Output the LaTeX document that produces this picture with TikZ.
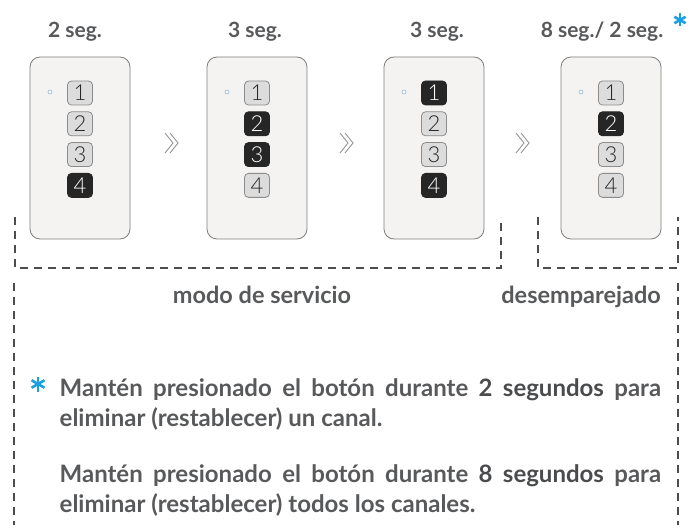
\documentclass[tikz,border=0pt]{standalone}
\usepackage{fontspec}
\setmainfont{Lato}
\newfontfamily\latoblack{Lato Black}
\newfontfamily\latolight{Lato Light}

\definecolor{remotefill}{HTML}{F4F3F2}
\definecolor{remoteline}{HTML}{7F7F7F}
\definecolor{btnfill}{HTML}{DCDCDC}
\definecolor{btnline}{HTML}{8C8C8C}
\definecolor{btndark}{HTML}{262626}
\definecolor{textgray}{HTML}{58595B}
\definecolor{boldgray}{HTML}{4A4B4D}
\definecolor{starblue}{HTML}{1BA0E2}
\definecolor{ledblue}{HTML}{8DB6D6}
\definecolor{dashgray}{HTML}{4D4D4D}

\tikzset{
  remote/.style={draw=remoteline, fill=remotefill, line width=0.8pt, rounded corners=10pt,
    minimum width=100pt, minimum height=182pt},
  btn/.style={draw=btnline, fill=btnfill, line width=0.8pt, rounded corners=4pt,
    minimum width=25pt, minimum height=24pt, inner sep=0pt, text=btndark,
    font=\latolight\fontsize{22}{22}\selectfont},
  btndk/.style={btn, draw=btndark, fill=btndark, text=white},
  led/.style={circle, draw=ledblue, fill=white, line width=0.6pt, minimum size=4pt, inner sep=0pt},
  title/.style={text=textgray, font=\bfseries\fontsize{21}{24}\selectfont, inner sep=0pt},
  label/.style={text=textgray, font=\bfseries\fontsize{23.5}{28}\selectfont, inner sep=0pt},
  chevron/.style={draw=btnline, line width=0.8pt},
  body/.style={text=textgray, font=\bfseries\fontsize{24}{30}\selectfont, inner sep=0pt,
    text width=601.5pt, align=justify},
  dashline/.style={draw=dashgray, line width=1.1pt, dash pattern=on 8pt off 6pt},
  starline/.style={draw=starblue, line width=2.6pt}
}

% blue asterisk: position, arm length
\newcommand{\asterisco}[2]{%
  \foreach \a in {90,30,150} \draw[starline] (#1) ++(\a:#2) -- ++(\a+180:2*#2);}

\begin{document}
\begin{tikzpicture}[x=1pt, y=-1pt]
    \useasboundingbox (0,0) rectangle (697,532);
    % \draw (0, 0) grid (697,532);

    % titles
    \node[title, anchor=base, name=time_1] at (75, 38) {2 seg.};
    \node[title, anchor=base, name=time_2] at (255, 38) {3 seg.};
    \node[title, anchor=base, name=time_3] at (437, 38) {3 seg.};
    \node[title, anchor=base, name=time_4] at (602, 38) {8 seg./ 2 seg.};
    \coordinate (star_top) at (680, 20);
    \asterisco{star_top}{6.5}

    % remotes
    \node[remote, name=remote_1] at (80, 148) {};
    \node[remote, name=remote_2] at (257, 148) {};
    \node[remote, name=remote_3] at (434, 148) {};
    \node[remote, name=remote_4] at (611, 148) {};
    \foreach \r/\x in {1/80, 2/257, 3/434, 4/611}
        \node[led, name=led_\r] at (\x-30, 92) {};

    \foreach \b/\s in {1/btn, 2/btn, 3/btn, 4/btndk}
        \node[\s, name=remote_1_\b] at (80, {93+30.8*(\b-1)}) {\b};
    \foreach \b/\s in {1/btn, 2/btndk, 3/btndk, 4/btn}
        \node[\s, name=remote_2_\b] at (257, {93+30.8*(\b-1)}) {\b};
    \foreach \b/\s in {1/btndk, 2/btn, 3/btn, 4/btndk}
        \node[\s, name=remote_3_\b] at (434, {93+30.8*(\b-1)}) {\b};
    \foreach \b/\s in {1/btn, 2/btndk, 3/btn, 4/btn}
        \node[\s, name=remote_4_\b] at (611, {93+30.8*(\b-1)}) {\b};

    % steps (double chevrons)
    \coordinate (next_1) at (171, 143);
    \coordinate (next_2) at (346, 143);
    \coordinate (next_3) at (522, 143);
    \foreach \n in {next_1, next_2, next_3}
        \foreach \d in {0, 5}
            \draw[chevron] ([xshift=\d pt-6pt, yshift=10pt]\n) -- ([xshift=\d pt+2pt]\n)
                -- ([xshift=\d pt-6pt, yshift=-10pt]\n);

    % dashed groups
    \draw[dashline] (15, 217) |- (501, 268) -- (501, 217);
    \draw[dashline] (538, 217) |- (678, 268) -- (678, 217);
    \draw[dashline] (14, 283) -- (14, 525);
    \draw[dashline] (678, 283) -- (678, 525);

    \node[label, anchor=base, name=service] at (262, 303) {modo de servicio};
    \node[label, anchor=base east, name=unpaired] at (661, 303) {desemparejado};

    % notes
    \coordinate (star_note) at (38, 384);
    \asterisco{star_note}{7.5}
    \node[body, anchor=base west, name=note_1] at (59.5, 396.5)
        {Mantén presionado el botón durante {\latoblack\color{boldgray}2 segundos} para\linebreak
         eliminar (restablecer) un canal.};
    \node[body, anchor=base west, name=note_2] at (59.5, 482.5)
        {Mantén presionado el botón durante {\latoblack\color{boldgray}8 segundos} para\linebreak
         eliminar (restablecer) todos los canales.};
\end{tikzpicture}
\end{document}
